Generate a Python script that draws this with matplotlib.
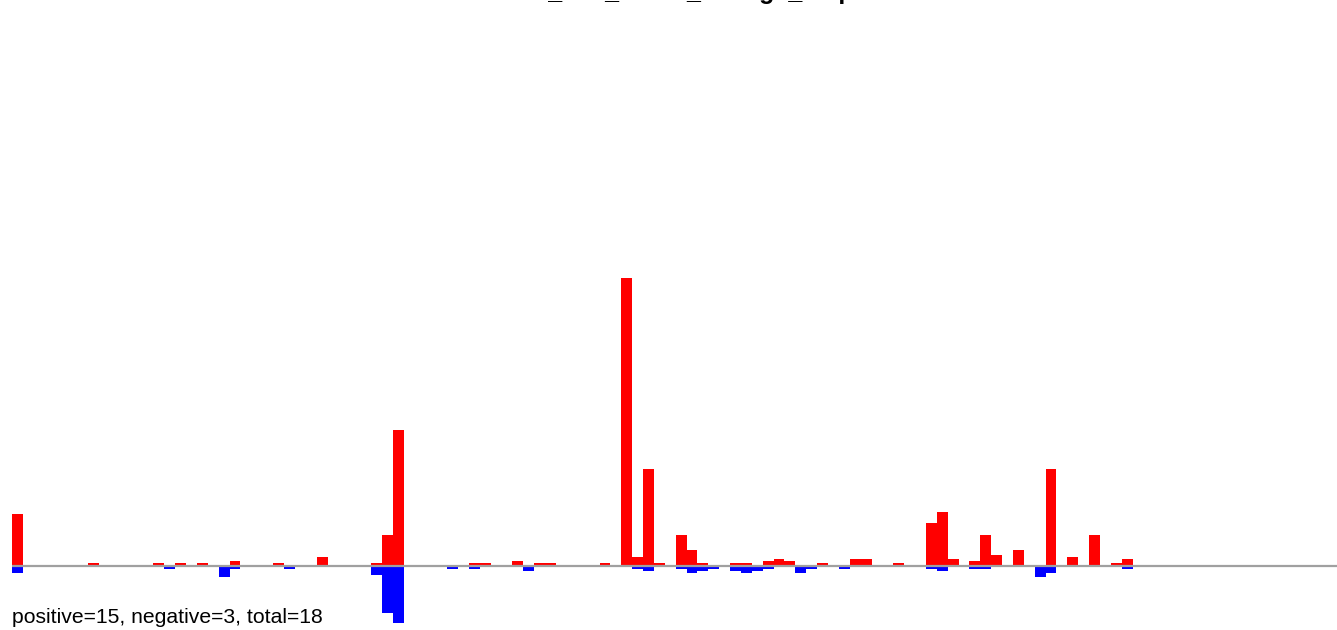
import matplotlib.pyplot as plt
import numpy as np

plt.rcParams['font.family'] = ['Liberation Sans', 'DejaVu Sans']

# bin index -> height above / below zero (red = gain, blue = loss)
n_bins = 103
pos_bins = [0, 7, 13, 15, 17, 20, 24, 28, 33, 34, 35, 42, 43, 46, 48, 49, 54,
            56, 57, 58, 59, 61, 62, 63, 66, 67, 69, 70, 71, 74, 77, 78, 81, 84,
            85, 86, 88, 89, 90, 92, 95, 97, 99, 101, 102]
pos_vals = [52, 3, 3, 3, 3, 5, 3, 9, 3, 31, 136, 3, 3, 5, 3, 3, 3,
            288, 9, 97, 3, 31, 16, 3, 3, 3, 5, 7, 5, 3, 7, 7, 3, 43,
            54, 7, 5, 31, 11, 16, 97, 9, 31, 3, 7]
neg_bins = [0, 14, 19, 20, 25, 33, 34, 35, 40, 42, 47, 57, 58, 61, 62, 63, 64,
            66, 67, 68, 69, 72, 73, 76, 84, 85, 88, 89, 94, 95, 102]
neg_vals = [7, 3, 11, 3, 3, 9, 47, 57, 3, 3, 5, 3, 5, 3, 7, 5, 3,
            5, 7, 5, 3, 7, 3, 3, 3, 5, 3, 3, 11, 7, 3]

n_pos, n_neg = 15, 3
title = "locus_site_count_change_map"

fig = plt.figure(figsize=(13.37, 6.3), dpi=100)
ax = fig.add_axes([12 / 1337, 0, 1 - 12 / 1337, 1])

ax.bar(pos_bins, pos_vals, width=1.0, align='edge', color='#ff0000', linewidth=0)
ax.bar(neg_bins, -np.array(neg_vals), width=1.0, align='edge', color='#0000ff', linewidth=0)
ax.axhline(0, color='#a0a0a0', linewidth=1.6, zorder=3)

ax.set_xlim(0, 1325 / 10.88)
ax.set_ylim(-64.5, 565.5)
ax.axis('off')

# the title sits mostly above the top edge, as in the source image
fig.text(0.5, 1 + 0.5 / 630, title, ha='center', va='baseline',
         fontsize=18, fontweight='bold')
fig.text(12 / 1337, 7 / 630, f"positive={n_pos}, negative={n_neg}, total={n_pos + n_neg}",
         ha='left', va='baseline', fontsize=15.2)

fig.savefig('out.png', dpi=100)
